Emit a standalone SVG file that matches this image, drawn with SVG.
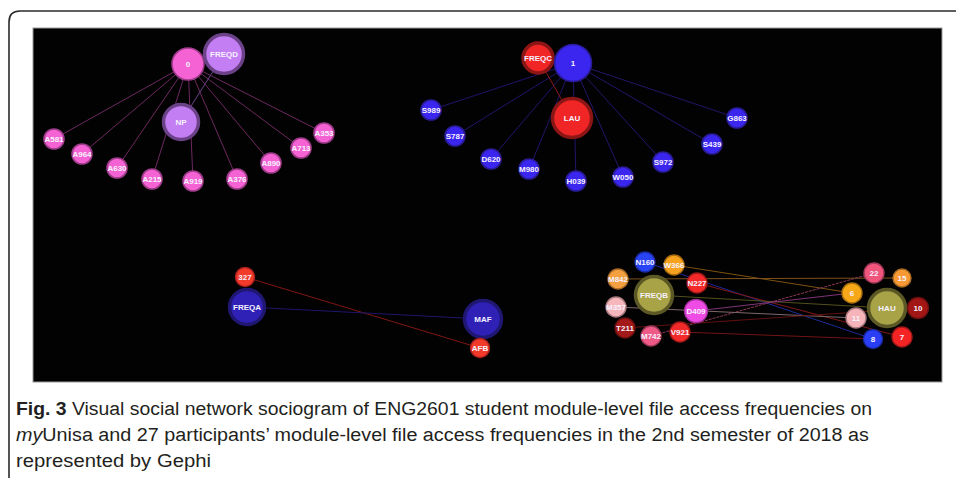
<svg xmlns="http://www.w3.org/2000/svg" width="956" height="478" viewBox="0 0 956 478">
<style>
.lbl{font-family:"Liberation Sans",Arial,sans-serif;font-size:8px;font-weight:bold;fill:#f6f2ff;text-anchor:middle;dominant-baseline:central}
.cap{font-family:"Liberation Sans",Arial,sans-serif;font-size:18px;fill:#231f20}
.pk{fill:#f462d3;stroke:#9e3b8a;stroke-width:1.6}
.lv{fill:#c47ef3;stroke:#6b4287;stroke-width:3.5}
.bl{fill:#3b26f0;stroke:#2a1c98;stroke-width:1.6}
.rd{fill:#f02626;stroke:#8c1616;stroke-width:3.5}
.db{fill:#3021b6;stroke:#1f1772;stroke-width:3.5}
.ol{fill:#a9a347;stroke:#5b5825;stroke-width:3.5}
.sm{stroke-width:1.4}
#edges line{stroke-width:1;fill:none}
</style>
<rect width="956" height="478" fill="#fff"/>
<path d="M9 478 L9 22 Q9 11 20 11 L956 11" fill="none" stroke="#2b2b2b" stroke-width="1.6"/>
<rect x="33" y="28" width="909" height="354" fill="#020202" stroke="#9a9a9a" stroke-width="1"/>

<g id="edges">
  <g stroke="#6e2861">
    <line x1="188" y1="64" x2="54" y2="139"/>
    <line x1="188" y1="64" x2="82" y2="154"/>
    <line x1="188" y1="64" x2="117" y2="168"/>
    <line x1="188" y1="64" x2="152" y2="179"/>
    <line x1="188" y1="64" x2="193" y2="181"/>
    <line x1="188" y1="64" x2="237" y2="179"/>
    <line x1="188" y1="64" x2="271" y2="163"/>
    <line x1="188" y1="64" x2="301" y2="148"/>
    <line x1="188" y1="64" x2="324" y2="133"/>
  </g>
  <line x1="224" y1="54" x2="181" y2="122" stroke="#6a4288"/>
  <g stroke="#22156a">
    <line x1="573" y1="63" x2="431" y2="110"/>
    <line x1="573" y1="63" x2="455" y2="136"/>
    <line x1="573" y1="63" x2="491" y2="159"/>
    <line x1="573" y1="63" x2="529" y2="169"/>
    <line x1="573" y1="63" x2="576" y2="181"/>
    <line x1="573" y1="63" x2="623" y2="177"/>
    <line x1="573" y1="63" x2="663" y2="162"/>
    <line x1="573" y1="63" x2="712" y2="144"/>
    <line x1="573" y1="63" x2="737" y2="118"/>
  </g>
  <line x1="538" y1="58" x2="572" y2="118" stroke="#8c1a1a"/>
  <line x1="245" y1="277" x2="480" y2="348" stroke="#801812"/>
  <line x1="247" y1="307" x2="483" y2="319" stroke="#20156a"/>
  <line x1="674" y1="265" x2="852" y2="293" stroke="#7e5210"/>
  <line x1="618" y1="279" x2="902" y2="278" stroke="#7e521c"/>
  <line x1="645" y1="262" x2="873" y2="339" stroke="#1e2a98"/>
  <line x1="697" y1="283" x2="902" y2="337" stroke="#801818"/>
  <line x1="654" y1="295" x2="887" y2="308" stroke="#52501f"/>
  <line x1="651" y1="336" x2="874" y2="273" stroke="#8e385a" stroke-dasharray="3 1"/>
  <line x1="696" y1="311" x2="852" y2="293" stroke="#803578"/>
  <line x1="616" y1="307" x2="856" y2="318" stroke="#7e686c"/>
  <line x1="625" y1="328" x2="918" y2="308" stroke="#621111"/>
  <line x1="680" y1="332" x2="873" y2="339" stroke="#721515"/>
</g>

<g id="n-A581"><circle class="pk" cx="54" cy="139" r="10"/><text class="lbl" x="54" y="139">A581</text></g>
<g id="n-A964"><circle class="pk" cx="82" cy="154" r="10"/><text class="lbl" x="82" y="154">A964</text></g>
<g id="n-A630"><circle class="pk" cx="117" cy="168" r="10"/><text class="lbl" x="117" y="168">A630</text></g>
<g id="n-A215"><circle class="pk" cx="152" cy="179" r="10"/><text class="lbl" x="152" y="179">A215</text></g>
<g id="n-A919"><circle class="pk" cx="193" cy="181" r="10"/><text class="lbl" x="193" y="181">A919</text></g>
<g id="n-A376"><circle class="pk" cx="237" cy="179" r="10"/><text class="lbl" x="237" y="179">A376</text></g>
<g id="n-A890"><circle class="pk" cx="271" cy="163" r="10"/><text class="lbl" x="271" y="163">A890</text></g>
<g id="n-A713"><circle class="pk" cx="301" cy="148" r="10"/><text class="lbl" x="301" y="148">A713</text></g>
<g id="n-A353"><circle class="pk" cx="324" cy="133" r="10"/><text class="lbl" x="324" y="133">A353</text></g>
<g id="n-0"><circle class="pk" cx="188" cy="64" r="16" stroke-width="3.5"/><text class="lbl" x="188" y="64">0</text></g>
<g id="n-FREQD"><circle class="lv" cx="224" cy="54" r="19.5"/><text class="lbl" x="224" y="54">FREQD</text></g>
<g id="n-NP"><circle class="lv" cx="181" cy="122" r="17.5"/><text class="lbl" x="181" y="122">NP</text></g>

<g id="n-S989"><circle class="bl" cx="431" cy="110" r="10"/><text class="lbl" x="431" y="110">S989</text></g>
<g id="n-S787"><circle class="bl" cx="455" cy="136" r="10"/><text class="lbl" x="455" y="136">S787</text></g>
<g id="n-D620"><circle class="bl" cx="491" cy="159" r="10"/><text class="lbl" x="491" y="159">D620</text></g>
<g id="n-M980"><circle class="bl" cx="529" cy="169" r="10"/><text class="lbl" x="529" y="169">M980</text></g>
<g id="n-H039"><circle class="bl" cx="576" cy="181" r="10"/><text class="lbl" x="576" y="181">H039</text></g>
<g id="n-W050"><circle class="bl" cx="623" cy="177" r="10"/><text class="lbl" x="623" y="177">W050</text></g>
<g id="n-S972"><circle class="bl" cx="663" cy="162" r="10"/><text class="lbl" x="663" y="162">S972</text></g>
<g id="n-S439"><circle class="bl" cx="712" cy="144" r="10"/><text class="lbl" x="712" y="144">S439</text></g>
<g id="n-G863"><circle class="bl" cx="737" cy="118" r="10"/><text class="lbl" x="737" y="118">G863</text></g>
<g id="n-FREQC"><circle class="rd" cx="538" cy="58" r="15"/><text class="lbl" x="538" y="58">FREQC</text></g>
<g id="n-1"><circle class="bl" cx="573" cy="63" r="18.5" stroke-width="3.5"/><text class="lbl" x="573" y="63">1</text></g>
<g id="n-LAU"><circle class="rd" cx="572" cy="118" r="19.5"/><text class="lbl" x="572" y="118">LAU</text></g>

<g id="n-327"><circle cx="245" cy="277" r="9.5" fill="#f23a2a" stroke="#b02020" stroke-width="1.4"/><text class="lbl" x="245" y="277">327</text></g>
<g id="n-FREQA"><circle class="db" cx="247" cy="307" r="17.5"/><text class="lbl" x="247" y="307">FREQA</text></g>
<g id="n-MAF"><circle class="db" cx="483" cy="319" r="18.5"/><text class="lbl" x="483" y="319">MAF</text></g>
<g id="n-AFB"><circle cx="480" cy="348" r="9.5" fill="#f23a2a" stroke="#b02020" stroke-width="1.4"/><text class="lbl" x="480" y="348">AFB</text></g>

<g id="n-N160"><circle class="sm" cx="645" cy="262" r="10" fill="#2844f5" stroke="#1a2aa0"/><text class="lbl" x="645" y="262">N160</text></g>
<g id="n-W366"><circle class="sm" cx="674" cy="265" r="10" fill="#f7a21e" stroke="#a86a10"/><text class="lbl" x="674" y="265">W366</text></g>
<g id="n-M842"><circle class="sm" cx="618" cy="279" r="10" fill="#f5a040" stroke="#a86a24"/><text class="lbl" x="618" y="279">M842</text></g>
<g id="n-N227"><circle class="sm" cx="697" cy="283" r="10" fill="#f42a2a" stroke="#a01818"/><text class="lbl" x="697" y="283">N227</text></g>
<g id="n-FREQB"><circle class="ol" cx="654" cy="295" r="18.5"/><text class="lbl" x="654" y="295">FREQB</text></g>
<g id="n-M357"><circle class="sm" cx="616" cy="307" r="10" fill="#f5b6bc" stroke="#a87a80"/><text class="lbl" x="616" y="307">M357</text></g>
<g id="n-D409"><circle class="sm" cx="696" cy="311" r="11.5" fill="#ef4ce6" stroke="#a0309a"/><text class="lbl" x="696" y="311">D409</text></g>
<g id="n-T211"><circle class="sm" cx="625" cy="328" r="10" fill="#a31818" stroke="#6a1010"/><text class="lbl" x="625" y="328">T211</text></g>
<g id="n-M742"><circle class="sm" cx="651" cy="336" r="10" fill="#ef5a86" stroke="#a03a5a"/><text class="lbl" x="651" y="336">M742</text></g>
<g id="n-V921"><circle class="sm" cx="680" cy="332" r="10" fill="#f22a2a" stroke="#a01818"/><text class="lbl" x="680" y="332">V921</text></g>

<g id="n-22"><circle class="sm" cx="874" cy="273" r="10" fill="#f0557c" stroke="#a0385a"/><text class="lbl" x="874" y="273">22</text></g>
<g id="n-15"><circle class="sm" cx="902" cy="278" r="9" fill="#f79a35" stroke="#a86a20"/><text class="lbl" x="902" y="278">15</text></g>
<g id="n-6"><circle class="sm" cx="852" cy="293" r="10" fill="#f7a818" stroke="#a87010"/><text class="lbl" x="852" y="293">6</text></g>
<g id="n-HAU"><circle class="ol" cx="887" cy="308" r="18.5"/><text class="lbl" x="887" y="308">HAU</text></g>
<g id="n-10"><circle class="sm" cx="918" cy="308" r="10.5" fill="#a31616" stroke="#6a1010"/><text class="lbl" x="918" y="308">10</text></g>
<g id="n-11"><circle class="sm" cx="856" cy="318" r="10" fill="#f5b4ba" stroke="#a87a80"/><text class="lbl" x="856" y="318">11</text></g>
<g id="n-8"><circle class="sm" cx="873" cy="339" r="9.5" fill="#2a3ef5" stroke="#1a2aa0"/><text class="lbl" x="873" y="339">8</text></g>
<g id="n-7"><circle class="sm" cx="902" cy="337" r="10" fill="#f52424" stroke="#a01818"/><text class="lbl" x="902" y="337">7</text></g>

<g id="caption">
<text class="cap" x="16" y="415" textLength="856" lengthAdjust="spacingAndGlyphs"><tspan font-weight="bold">Fig. 3</tspan> Visual social network sociogram of ENG2601 student module-level file access frequencies on</text>
<text class="cap" x="16" y="441" textLength="853" lengthAdjust="spacingAndGlyphs"><tspan font-style="italic">my</tspan>Unisa and 27 participants’ module-level file access frequencies in the 2nd semester of 2018 as</text>
<text class="cap" x="16" y="467" textLength="195" lengthAdjust="spacingAndGlyphs">represented by Gephi</text>
</g>
</svg>
